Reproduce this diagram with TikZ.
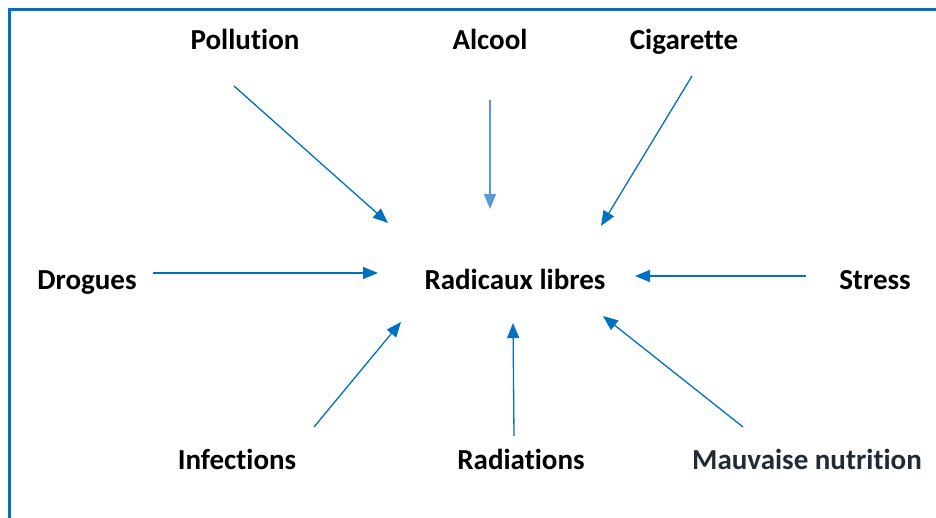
\documentclass[tikz,border=0pt]{standalone}
\usepackage{fontspec}
\setmainfont{Carlito}[Ligatures=NoCommon]
\usetikzlibrary{arrows.meta}
\definecolor{arrblue}{HTML}{0070C0}
\definecolor{lightblue}{HTML}{5B9BD5}
\definecolor{darktxt}{HTML}{222A35}
\tikzset{
  lbl/.style={font=\bfseries\fontsize{29}{34}\selectfont, inner sep=0pt, anchor=base},
  arr/.style={draw=arrblue, line width=1.3pt, -{Triangle[length=15pt,width=12pt]}},
  arrlight/.style={arr, draw=lightblue, -{Triangle[length=15pt,width=12pt]}}
}
\begin{document}
\begin{tikzpicture}[x=1pt,y=-1pt]
\useasboundingbox (0,0) rectangle (936,518);
\clip (0,0) rectangle (936,518);
\fill[white] (0,0) rectangle (936,518);
\draw[arrblue, line width=3pt] (9.5,9.5) rectangle (950,540);
% labels
\node[lbl] (pollution) at (245,49.5) {Pollution};
\node[lbl] (alcool) at (490,49.5) {Alcool};
\node[lbl] (cigarette) at (684,49.5) {Cigarette};
\node[lbl] (drogues) at (87,289.5) {Drogues};
\node[lbl] (radicaux) at (515,289.5) {Radicaux libres};
\node[lbl] (stress) at (875,289.5) {Stress};
\node[lbl] (infections) at (237,469.5) {Infections};
\node[lbl] (radiations) at (521,469.5) {Radiations};
\node[lbl, text=darktxt] (nutrition) at (807,469.5) {Mauvaise nutrition};
% arrow end points
\coordinate (p1) at (234,86);   \coordinate (p2) at (388,223);
\coordinate (a1) at (490,100);  \coordinate (a2) at (490,209);
\coordinate (c1) at (692,76);   \coordinate (c2) at (601,226);
\coordinate (d1) at (153,273);  \coordinate (d2) at (378,273);
\coordinate (s1) at (806,276);  \coordinate (s2) at (635,276);
\coordinate (i1) at (314,427);  \coordinate (i2) at (401,322);
\coordinate (r1) at (514,436);  \coordinate (r2) at (513,323);
\coordinate (m1) at (743,427);  \coordinate (m2) at (603,316);
\draw[arr] (p1) -- (p2);
\draw[arrlight] (a1) -- (a2);
\draw[arr] (c1) -- (c2);
\draw[arr] (d1) -- (d2);
\draw[arr] (s1) -- (s2);
\draw[arr] (i1) -- (i2);
\draw[arr] (r1) -- (r2);
\draw[arr] (m1) -- (m2);
\end{tikzpicture}
\end{document}
